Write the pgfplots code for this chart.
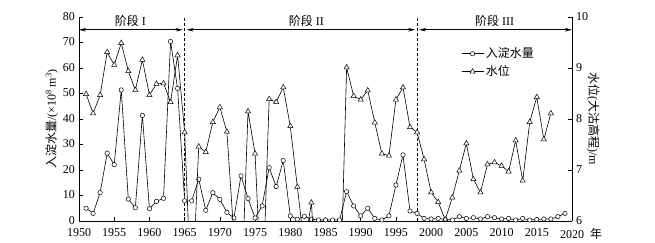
\documentclass[border=0pt]{standalone}
\usepackage{fontspec}
\setmainfont{Liberation Serif}
\newfontfamily\cjk{Noto Sans CJK SC}
\usepackage{pgfplots}
\usepackage{pgfplotstable}
\pgfplotsset{compat=1.18}
\usetikzlibrary{arrows.meta}

\pgfplotstableread{
year flow
1951 5.0
1952 3.0
1953 11.1
1954 26.6
1955 22.1
1956 51.4
1957 8.6
1958 5.2
1959 41.4
1960 4.8
1961 7.7
1962 8.9
1963 70.4
1964 52.0
1965 7.9
1966 7.9
1967 16.4
1968 4.2
1969 11.1
1970 8.5
1971 3.4
1972 1.2
1973 17.7
1974 8.8
1975 1.2
1976 5.9
1977 20.9
1978 13.5
1979 23.7
1980 2.0
1981 0.7
1982 1.8
1983 0.7
1984 0.4
1985 0.4
1986 0.4
1987 0.4
1988 11.5
1989 5.9
1990 2.0
1991 5.0
1992 1.0
1993 0.4
1994 2.0
1995 14.1
1996 25.9
1997 3.9
1998 3.0
1999 1.0
2000 0.8
2001 1.0
2002 0.6
2003 0.4
2004 1.7
2005 1.0
2006 1.3
2007 0.8
2008 1.7
2009 1.3
2010 0.8
2011 1.0
2012 0.4
2013 1.0
2014 0.4
2015 0.6
2016 0.8
2017 0.8
2018 1.7
2019 3.0
}\flowtable

\pgfplotstableread{
year level
1951 8.49
1952 8.11
1953 8.47
1954 9.31
1955 9.06
1956 9.49
1957 8.94
1958 8.57
1959 9.16
1960 8.47
1961 8.69
1962 8.70
1963 8.33
1964 9.25
1965 7.74
1966 4.3
1967 7.46
1968 7.35
1969 7.94
1970 8.23
1971 7.75
1972 5.7
1973 4.3
1974 8.15
1975 7.32
1976 4.3
1977 8.39
1978 8.33
1979 8.62
1980 7.86
1981 6.67
1982 5.5
1983 6.36
1984 4.0
1985 4.0
1986 4.0
1987 4.0
1988 9.01
1989 8.45
1990 8.38
1991 8.56
1992 7.93
1993 7.32
1994 7.28
1995 8.38
1996 8.62
1997 7.84
1998 7.74
1999 7.21
2000 6.56
2001 6.37
2002 6.03
2003 6.46
2004 6.99
2005 7.52
2006 6.82
2007 6.56
2008 7.11
2009 7.15
2010 7.08
2011 6.97
2012 7.58
2013 6.79
2014 7.94
2015 8.43
2016 7.60
2017 8.11
}\leveltable

\begin{document}
\fontsize{12bp}{14bp}\selectfont
\begin{tikzpicture}
\path[use as bounding box] (-79bp,-22bp) rectangle (576bp,221bp);
\begin{axis}[
  at={(0,0)}, anchor=south west,
  scale only axis, width=493bp, height=204bp,
  xmin=1950, xmax=2020, ymin=0, ymax=80,
  axis x line*=bottom, axis y line*=left,
  xtick={1950,1955,...,2020},
  xticklabels={1950,1955,1960,1965,1970,1975,1980,1985,1990,1995,2000,2005,2010,2015,{2020\rlap{\hspace{0.5em}\cjk 年}}},
  ytick={0,10,...,80},
  tick align=inside, major tick length=4bp,
  tick style={black, line width=0.6bp},
  /pgf/number format/assume math mode=true,
  font=\fontsize{12bp}{14bp}\selectfont,
  ticklabel style={font=\fontsize{12bp}{14bp}\selectfont},
  xticklabel style={yshift=-3.5bp},
  yticklabel style={inner ysep=0pt, yshift=0.5bp},
  ylabel={{\cjk 入淀水量}/(×10\textsuperscript{8} m\textsuperscript{3})},
  ylabel style={at={(axis description cs:-0.055,0.5)}, anchor=center},
  clip=false,
  axis line style={line width=0.8bp},
]
\addplot[black, line width=0.6bp, mark=*, mark size=2.2bp, mark options={fill=white, line width=0.5bp}] table[x=year, y=flow] {\flowtable};
\draw[dash pattern=on 3bp off 2bp, line width=0.6bp] (axis cs:1965,0) -- (axis cs:1965,80);
\draw[dash pattern=on 3bp off 2bp, line width=0.6bp] (axis cs:1998,0) -- (axis cs:1998,80);
\draw[{Stealth[length=7bp,width=3.5bp]}-{Stealth[length=7bp,width=3.5bp]}, line width=0.6bp, shorten >=2bp] (axis cs:1950,75) -- (axis cs:1965,75);
\draw[{Stealth[length=7bp,width=3.5bp]}-{Stealth[length=7bp,width=3.5bp]}, line width=0.6bp, shorten >=2bp, shorten <=2bp] (axis cs:1965,75) -- (axis cs:1998,75);
\draw[{Stealth[length=7bp,width=3.5bp]}-{Stealth[length=7bp,width=3.5bp]}, line width=0.6bp, shorten <=2bp] (axis cs:1998,75) -- (axis cs:2020,75);
\node at (axis cs:1957.3,78.6) {{\cjk 阶段} I};
\node at (axis cs:1982.3,78.6) {{\cjk 阶段} II};
\node at (axis cs:2009,78.6) {{\cjk 阶段} III};
\end{axis}
\begin{axis}[
  at={(0,0)}, anchor=south west,
  scale only axis, width=493bp, height=204bp,
  xmin=1950, xmax=2020, ymin=6, ymax=10,
  axis y line*=right, axis x line=none,
  ytick={6,7,8,9,10},
  tick align=inside, major tick length=4bp,
  tick style={black, line width=0.6bp},
  /pgf/number format/assume math mode=true,
  font=\fontsize{12bp}{14bp}\selectfont,
  ticklabel style={font=\fontsize{12bp}{14bp}\selectfont},
  yticklabel style={inner ysep=0pt, yshift=0.5bp},
  ylabel={{\cjk 水位}({\cjk 大沽高程})/m},
  ylabel style={at={(axis description cs:1.043,0.5)}, anchor=center, rotate=180},
  axis line style={line width=0.8bp},
  legend style={at={(0.775,0.86)}, anchor=north west, draw=none, fill=none, inner sep=0pt, row sep=2bp, font=\fontsize{12bp}{14bp}\selectfont\cjk},
  legend cell align=left,
  legend image code/.code={\draw[mark repeat=2, mark phase=2] plot coordinates {(0bp,0bp) (11bp,0bp) (22bp,0bp)};},
]
\addlegendimage{black, line width=0.6bp, mark=*, mark size=2.2bp, mark options={fill=white, line width=0.5bp}}
\addlegendentry{入淀水量}
\addplot[black, line width=0.6bp, mark=triangle*, mark size=3bp, mark options={fill=white, line width=0.5bp}] table[x=year, y=level] {\leveltable};
\addlegendentry{水位}
\end{axis}
\end{tikzpicture}
\end{document}
